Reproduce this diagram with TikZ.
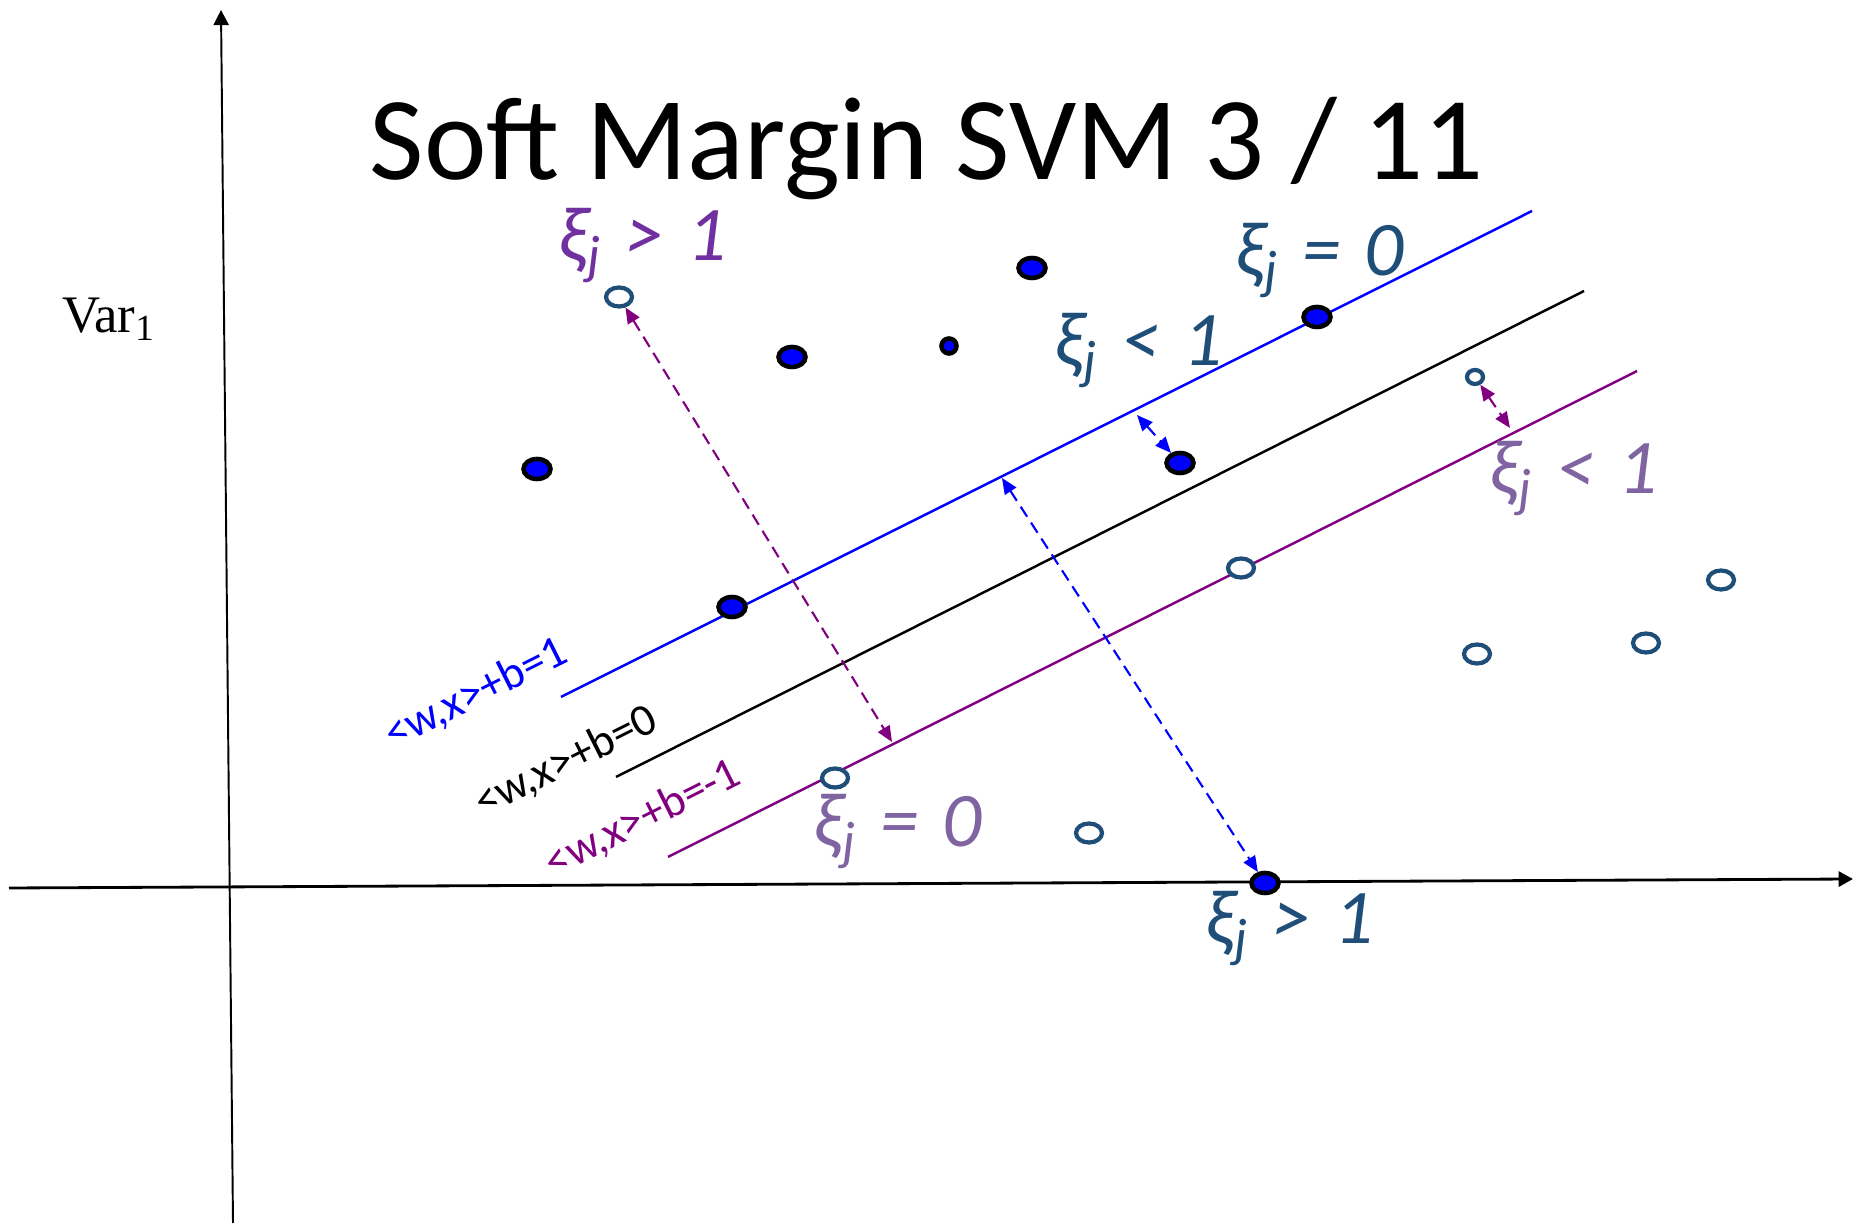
\documentclass[tikz,border=0pt]{standalone}
\usepackage{fontspec}
\setmainfont{Carlito}
\newfontfamily\varfont{Liberation Serif}
\usepackage{xcolor}
\usepackage{tikz}
\usetikzlibrary{arrows.meta,shapes.geometric}
\definecolor{negblue}{HTML}{1F4E79}
\definecolor{slackpurple}{HTML}{7030A0}
\definecolor{softpurple}{HTML}{8064A2}
\definecolor{marginpurple}{HTML}{800080}
\newcommand{\xirel}[2]{ξ\textsubscript{j}\hspace{0.3em}#1\hspace{0.3em}#2}

\begin{document}
\begin{tikzpicture}[
  posdot/.style={ellipse,draw=black,line width=1.3pt,fill=blue,inner sep=0pt,
    minimum width=0.27cm,minimum height=0.2cm},
  negdot/.style={ellipse,draw=negblue,line width=1.2pt,fill=white,inner sep=0pt,
    minimum width=0.26cm,minimum height=0.19cm},
  slack/.style={line width=0.6pt,dash pattern=on 3.4pt off 2pt,
    {Triangle[length=4.5pt,width=3.8pt]}-{Triangle[length=4.5pt,width=3.8pt]}},
  xilab/.style={anchor=base west,inner sep=0pt,font=\fontsize{22}{26}\selectfont\itshape},
  planelab/.style={rotate=26.6,inner sep=0pt,font=\fontsize{13}{15}\selectfont}
]
\useasboundingbox (0,0) rectangle (18.56,12.24);
% axes
\draw[line width=0.55pt,-{Triangle[length=4.3pt,width=4.3pt]}] (2.33,0.01)--(2.21,12.14);
\draw[line width=0.8pt,-{Triangle[length=4.1pt,width=4.3pt]}] (0.09,3.36)--(18.53,3.45);
\node[anchor=base west,inner sep=0pt,font=\varfont\fontsize{15}{18}\selectfont] (var) at (0.615,8.91) {Var\textsubscript{1}};
\node[anchor=base west,inner sep=0pt,font=\fontsize{33.7}{40}\selectfont] (title) at (3.69,10.44) {Soft Margin SVM 3 / 11};

% margins and separating plane
\draw[blue,line width=0.7pt] (5.61,5.27)--(15.32,10.13);
\draw[black,line width=0.7pt] (6.16,4.47)--(15.84,9.33);
\draw[marginpurple,line width=0.7pt] (6.68,3.67)--(16.37,8.53);
\node[planelab,blue] (plus) at (4.76,5.30) {<w,x>+b=1};
\node[planelab,black] (zero) at (5.66,4.62) {<w,x>+b=0};
\node[planelab,marginpurple] (minus) at (6.43,4.05) {<w,x>+b=-1};

% points
\foreach \name/\x/\y in {pos1/5.37/7.55,pos2/7.92/8.67,pos4/10.32/9.56,pos5/13.17/9.07,
  pos6/11.80/7.61,pos7/7.32/6.17,pos8/12.65/3.41}
  {\node[posdot] (\name) at (\x,\y) {};}
\node[posdot,minimum width=0.15cm,minimum height=0.15cm] (pos3) at (9.49,8.78) {};
\foreach \name/\x/\y in {neg1/6.19/9.27,neg3/12.41/6.56,neg4/17.21/6.44,neg5/14.77/5.70,
  neg6/16.46/5.81,neg7/8.35/4.46,neg8/10.89/3.91}
  {\node[negdot] (\name) at (\x,\y) {};}
\node[negdot,minimum width=0.16cm,minimum height=0.14cm] (neg2) at (14.75,8.47) {};

% slack distances
\coordinate (pm1) at (8.92,4.82);
\coordinate (pm2) at (15.10,7.96);
\coordinate (bm1) at (10.02,7.46);
\coordinate (bm2) at (11.37,8.09);
\draw[slack,marginpurple] (neg1)--(pm1);
\draw[slack,marginpurple] (neg2)--(pm2);
\draw[slack,blue] (bm1)--(pos8);
\draw[slack,blue] (bm2)--(pos6);

\node[xilab,slackpurple] (xi1) at (5.58,9.63) {\xirel{>}{1}};
\node[xilab,negblue] (xi2) at (12.35,9.48) {\xirel{=}{0}};
\node[xilab,negblue] (xi3) at (10.54,8.58) {\xirel{<}{1}};
\node[xilab,softpurple] (xi4) at (14.89,7.30) {\xirel{<}{1}};
\node[xilab,softpurple] (xi5) at (8.13,3.77) {\xirel{=}{0}};
\node[xilab,negblue] (xi6) at (12.05,2.80) {\xirel{>}{1}};
\end{tikzpicture}
\end{document}
